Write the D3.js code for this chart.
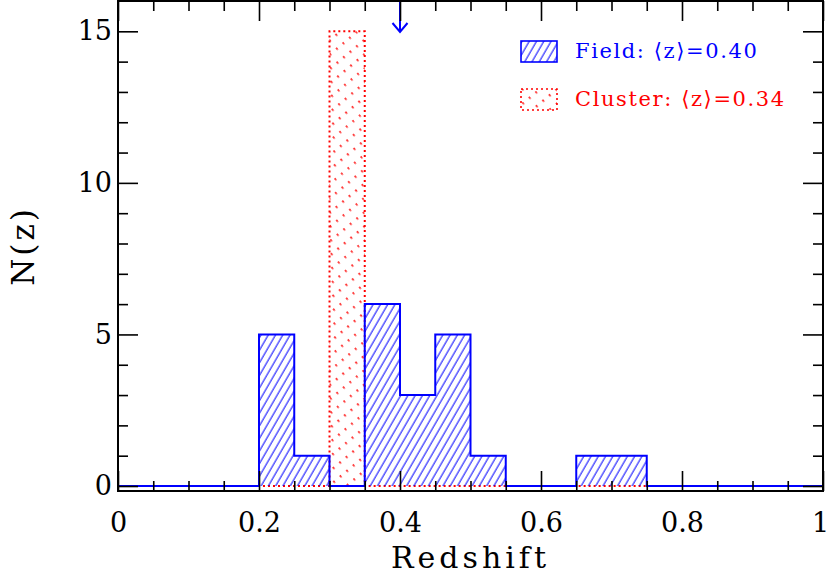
<!DOCTYPE html>
<html>
<head>
<meta charset="utf-8">
<script src="https://cdn.jsdelivr.net/npm/d3@7"></script>
<style>
  body { margin: 0; background: #fff; }
  text { font-family: 'DejaVu Serif', serif; }
</style>
</head>
<body>
<div id="chart"></div>
<script>
// histogram bins (redshift), counts per bin
const binEdges = [0, 0.05, 0.1, 0.15, 0.2, 0.25, 0.3, 0.35, 0.4, 0.45, 0.5,
  0.55, 0.6, 0.65, 0.7, 0.75, 0.8, 0.85, 0.9, 0.95, 1.0]
const fieldCounts = [0, 0, 0, 0, 5, 1, 0, 6, 3, 5, 1, 0, 0, 1, 1, 0, 0, 0, 0, 0]
const clusterCounts = [0, 0, 0, 0, 0, 0, 15, 0, 0, 0, 0, 0, 0, 0, 0, 0, 0, 0, 0, 0]
const fieldMean = 0.40
const xMajorTicks = [0, 0.2, 0.4, 0.6, 0.8, 1]
const xMinorTicks = [0.05, 0.1, 0.15, 0.25, 0.3, 0.35, 0.45, 0.5, 0.55, 0.65, 0.7, 0.75, 0.85, 0.9, 0.95]
const yMajorTicks = [0, 5, 10, 15]
const yMinorTicks = [1, 2, 3, 4, 6, 7, 8, 9, 11, 12, 13, 14]
const legendLabels = ['Field: \u27E8z\u27E9=0.40', 'Cluster: \u27E8z\u27E9=0.34']

const width = 830, height = 578
const margin = {top: 1, right: 7, bottom: 87, left: 118}
const w = width - margin.left - margin.right
const h = height - margin.top - margin.bottom
const blue = '#0000ff', red = '#ff0000'

const svg = d3.select('#chart').append('svg')
  .attr('width', width).attr('height', height)

const defs = svg.append('defs')
const pb = defs.append('pattern')
  .attr('id', 'hatchBlue').attr('patternUnits', 'userSpaceOnUse')
  .attr('width', 6.3).attr('height', 20)
  .attr('patternTransform', 'rotate(30)')
pb.append('line').attr('x1', 1).attr('x2', 1).attr('y1', 0).attr('y2', 20)
  .attr('stroke', blue).attr('stroke-width', 1)
const pr = defs.append('pattern')
  .attr('id', 'hatchRed').attr('patternUnits', 'userSpaceOnUse')
  .attr('width', 8.5).attr('height', 11)
  .attr('patternTransform', 'rotate(-40)')
pr.append('line').attr('x1', 1).attr('x2', 1).attr('y1', 0).attr('y2', 11)
  .attr('stroke', red).attr('stroke-width', 1.4).attr('stroke-dasharray', '2.5,8.5')

const g = svg.append('g')
  .attr('transform', `translate(${margin.left},${margin.top})`)

const x = d3.scaleLinear().domain([0, 1]).range([0, w])
const y = d3.scaleLinear().domain([-0.165, 16]).range([h, 0])

function steps(counts) {
  return binEdges.map((e, i) => ({x: e, n: counts[Math.min(i, counts.length - 1)]}))
}
const area = d3.area().curve(d3.curveStepAfter)
  .x(d => x(d.x)).y0(y(0)).y1(d => y(d.n))
const line = d3.line().curve(d3.curveStepAfter)
  .x(d => x(d.x)).y(d => y(d.n))

// cluster (red, dotted)
g.append('path').datum(steps(clusterCounts))
  .attr('d', area).attr('fill', 'url(#hatchRed)')
g.append('path').datum(steps(clusterCounts))
  .attr('d', line).attr('fill', 'none')
  .attr('stroke', red).attr('stroke-width', 2).attr('stroke-dasharray', '2,3')

// field (blue, solid)
g.append('path').datum(steps(fieldCounts))
  .attr('d', area).attr('fill', 'url(#hatchBlue)')
g.append('path').datum(steps(fieldCounts))
  .attr('d', line).attr('fill', 'none')
  .attr('stroke', blue).attr('stroke-width', 2)

// mean field arrow
const ax = x(fieldMean)
g.append('path')
  .attr('d', `M${ax},0V31M${ax - 7.5},22L${ax},31L${ax + 7.5},22`)
  .attr('fill', 'none').attr('stroke', blue).attr('stroke-width', 2)

// axes
function styleAxis(sel) {
  sel.select('.domain').remove()
  sel.selectAll('line').attr('stroke', '#000').attr('stroke-width', 1.6)
  sel.selectAll('text').style('font-family', 'DejaVu Serif').style('font-size', '27px').attr('fill', '#000')
}
g.append('g').attr('transform', `translate(0,${h})`)
  .call(d3.axisBottom(x).tickValues(xMinorTicks).tickSize(-10).tickFormat(''))
  .call(styleAxis)
g.append('g').attr('transform', `translate(0,${h})`)
  .call(d3.axisBottom(x).tickValues(xMajorTicks).tickSize(-20).tickFormat(d3.format('')))
  .call(styleAxis)
  .selectAll('text').attr('y', 41).attr('dy', 0)
  .attr('dx', d => d === 1 ? -3 : 0)
g.append('g')
  .call(d3.axisTop(x).tickValues(xMinorTicks).tickSize(-10).tickFormat(''))
  .call(styleAxis)
g.append('g')
  .call(d3.axisTop(x).tickValues(xMajorTicks).tickSize(-20).tickFormat(''))
  .call(styleAxis)
g.append('g')
  .call(d3.axisLeft(y).tickValues(yMinorTicks).tickSize(-10).tickFormat(''))
  .call(styleAxis)
g.append('g')
  .call(d3.axisLeft(y).tickValues(yMajorTicks).tickSize(-20).tickPadding(6))
  .call(styleAxis)
g.append('g').attr('transform', `translate(${w},0)`)
  .call(d3.axisRight(y).tickValues(yMinorTicks).tickSize(-10).tickFormat(''))
  .call(styleAxis)
g.append('g').attr('transform', `translate(${w},0)`)
  .call(d3.axisRight(y).tickValues(yMajorTicks).tickSize(-20).tickFormat(''))
  .call(styleAxis)

g.append('rect').attr('width', w).attr('height', h)
  .attr('fill', 'none').attr('stroke', '#000').attr('stroke-width', 2)

// axis labels
g.append('text')
  .attr('x', w / 2).attr('y', h + 77)
  .attr('text-anchor', 'middle')
  .style('font-size', '30px').style('letter-spacing', '4px')
  .text('Redshift')
g.append('text')
  .attr('transform', `translate(${-84},${h / 2}) rotate(-90)`)
  .attr('text-anchor', 'middle')
  .style('font-size', '31px').style('letter-spacing', '3px')
  .text('N(z)')

// legend
const legend = g.append('g').attr('transform', 'translate(403,40)')
const legendFills = ['url(#hatchBlue)', 'url(#hatchRed)']
const legendColors = [blue, red]
legendLabels.forEach((lab, i) => {
  const row = legend.append('g').attr('transform', `translate(0,${i * 48})`)
  row.append('rect').attr('width', 36).attr('height', 21)
    .attr('fill', legendFills[i]).attr('stroke', legendColors[i])
    .attr('stroke-width', 1.6)
    .attr('stroke-dasharray', i === 1 ? '2,3' : null)
  row.append('text').attr('x', 54).attr('y', 17)
    .attr('fill', legendColors[i])
    .style('font-size', '21px').style('letter-spacing', '1.6px')
    .text(lab)
})
</script>
</body>
</html>
